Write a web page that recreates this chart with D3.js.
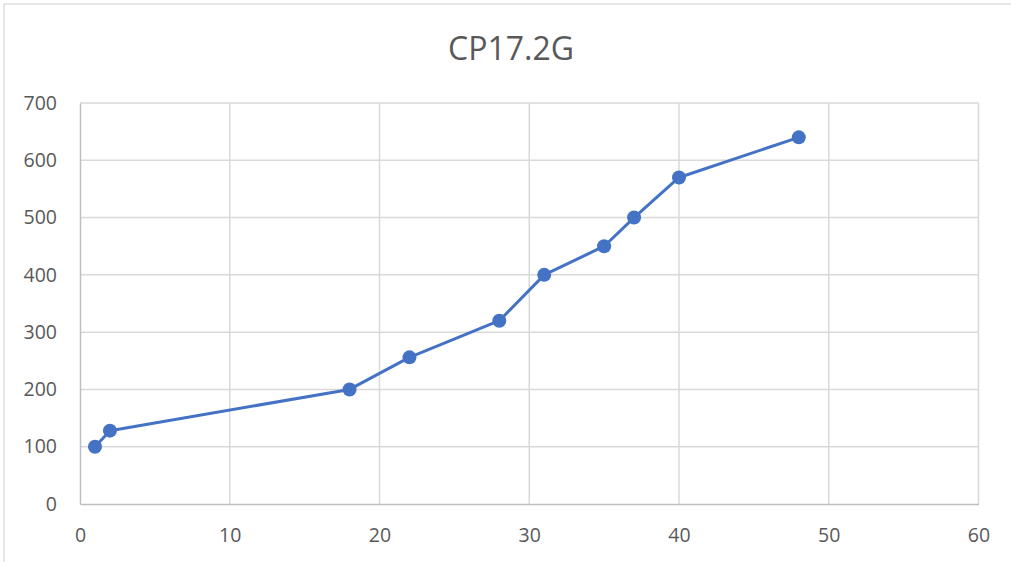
<!DOCTYPE html>
<html>
<head>
<meta charset="utf-8">
<script src="https://cdn.jsdelivr.net/npm/d3@7"></script>
<style>
html,body{margin:0;padding:0;background:#fff;}
svg{display:block;}
</style>
</head>
<body>
<svg id="chart" width="1011" height="562"></svg>
<script>
const title = "CP17.2G";
const xValues = [1, 2, 18, 22, 28, 31, 35, 37, 40, 48];
const yValues = [100, 128, 200, 256, 320, 400, 450, 500, 570, 640];
const xTicks = [0, 10, 20, 30, 40, 50, 60];
const yTicks = [0, 100, 200, 300, 400, 500, 600, 700];

const data = xValues.map((x, i) => ({x, y: yValues[i]}));
const svg = d3.select("#chart");
const W = 1011, H = 562;
const m = {left: 80, right: 978.5, top: 103, bottom: 504};

svg.append("rect").attr("x", 0).attr("y", 0).attr("width", W).attr("height", H).attr("fill", "#fff");
svg.append("rect").attr("x", 4).attr("y", 4).attr("width", 1200).attr("height", 1000)
  .attr("fill", "none").attr("stroke", "#d9d9d9").attr("stroke-width", 1.3);

const x = d3.scaleLinear().domain([0, 60]).range([m.left, m.right]);
const y = d3.scaleLinear().domain([0, 700]).range([m.bottom, m.top]);

// gridlines
svg.append("g").selectAll("line").data(yTicks.filter(t => t > 0)).join("line")
  .attr("x1", m.left).attr("x2", m.right)
  .attr("y1", d => y(d)).attr("y2", d => y(d))
  .attr("stroke", "#d9d9d9").attr("stroke-width", 1.5);
svg.append("g").selectAll("line").data(xTicks.filter(t => t > 0)).join("line")
  .attr("y1", m.top).attr("y2", m.bottom)
  .attr("x1", d => x(d)).attr("x2", d => x(d))
  .attr("stroke", "#d9d9d9").attr("stroke-width", 1.5);

// axes
const xAxis = svg.append("g").attr("transform", `translate(0,${m.bottom})`)
  .call(d3.axisBottom(x).tickValues(xTicks).tickSize(0).tickPadding(24));
xAxis.select(".domain").attr("stroke", "#bfbfbf").attr("stroke-width", 1.5);
const yAxis = svg.append("g").attr("transform", `translate(${m.left},0)`)
  .call(d3.axisLeft(y).tickValues(yTicks).tickSize(0).tickPadding(23));
yAxis.select(".domain").attr("stroke", "#bfbfbf").attr("stroke-width", 1.5);
svg.selectAll(".tick text")
  .attr("fill", "#595959")
  .style("font-family", "'Open Sans', sans-serif")
  .style("font-size", "19.5px");

// line
svg.append("path").datum(data)
  .attr("fill", "none").attr("stroke", "#4472c4").attr("stroke-width", 3)
  .attr("stroke-linejoin", "round")
  .attr("d", d3.line().x(d => x(d.x)).y(d => y(d.y)));

svg.append("g").selectAll("circle").data(data).join("circle")
  .attr("cx", d => x(d.x)).attr("cy", d => y(d.y)).attr("r", 7)
  .attr("fill", "#4472c4");

// title
svg.append("text").attr("x", 511).attr("y", 60)
  .attr("text-anchor", "middle")
  .attr("fill", "#595959")
  .style("font-family", "'Open Sans', sans-serif")
  .style("font-size", "32px")
  .text(title);
</script>
</body>
</html>
